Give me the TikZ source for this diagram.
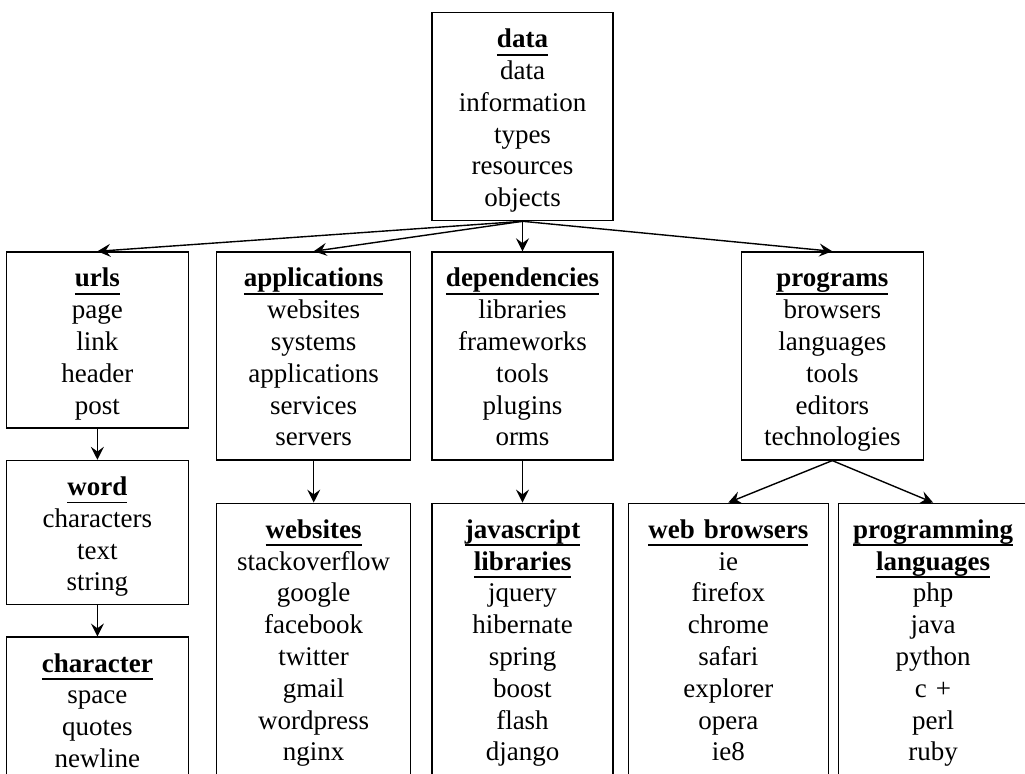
\documentclass[tikz,border=0pt]{standalone}
\usepackage{fontspec}
\setmainfont{Liberation Serif}
\usetikzlibrary{arrows.meta, positioning}

% bold underlined title line of a box
\newcommand{\boxhead}[1]{\leavevmode{\bfseries\setbox0=\hbox{#1}\rlap{\rule[-4pt]{\wd0}{0.9pt}}\box0}}

\begin{document}
\begin{tikzpicture} [
    x=0.5pt, y=-0.5pt,
    every node/.style={font=\fontsize{13.5}{15.9}\selectfont},
    termbox/.style={draw, line width=0.65pt,
        inner xsep=0pt, inner ysep=2pt, align=center,
        execute at begin node={\rule{0pt}{15.5pt}},
        execute at end node={\rule[-5pt]{0pt}{5pt}}},
    cut off/.style={execute at end node={\rule[-30pt]{0pt}{30pt}}}]

\clip (0,0) rectangle (1025,774);

% Root
\node (data) [termbox, anchor=north, text width=90.5pt] at (522.5,12)
    {\boxhead{data}\\data\\information\\types\\resources\\objects};

% Second row
\node (deps) [termbox,
    below = 15pt of data,
    text width=90.5pt]
    {\boxhead{dependencies}\\libraries\\frameworks\\tools\\plugins\\orms};

\node (apps) [termbox,
    left = 10pt of deps.north west, anchor=north east,
    text width=97pt]
    {\boxhead{applications}\\websites\\systems\\applications\\services\\servers};

\node (urls) [termbox,
    left = 13.5pt of apps.north west, anchor=north east,
    text width=91pt]
    {\boxhead{urls}\\page\\link\\header\\post};

\node (progs) [termbox,
    right = 63.5pt of deps.north east, anchor=north west,
    text width=91pt]
    {\boxhead{programs}\\browsers\\languages\\tools\\editors\\technologies};

% Left column
\node (word) [termbox,
    below = 15.5pt of urls,
    text width=91pt]
    {\boxhead{word}\\characters\\text\\string};

\node (char) [termbox, cut off,
    below = 15.5pt of word,
    text width=91pt]
    {\boxhead{character}\\space\\quotes\\newline};

% Third row
\node (sites) [termbox, cut off,
    below = 21pt of apps,
    text width=97pt]
    {\boxhead{websites}\\stackoverflow\\google\\facebook\\twitter\\gmail\\wordpress\\nginx};

\node (jslibs) [termbox, cut off,
    below = 21pt of deps,
    text width=90.5pt]
    {\boxhead{javascript}\\\boxhead{libraries}\\jquery\\hibernate\\spring\\boost\\flash\\django};

\node (browsers) [termbox, cut off,
    right = 7pt of jslibs.north east, anchor=north west,
    text width=100pt]
    {\boxhead{web browsers}\\ie\\firefox\\chrome\\safari\\explorer\\opera\\ie8};

\node (langs) [termbox, cut off,
    right = 4.5pt of browsers.north east, anchor=north west,
    text width=94.5pt]
    {\boxhead{programming}\\\boxhead{languages}\\php\\java\\python\\c +\\perl\\ruby};

% Arrows
\path [-{Stealth[length=6.5pt, width=6.5pt, inset=2.4pt]}, line width=0.7pt]
    (data.south) edge (urls.north)
    (data.south) edge (apps.north)
    (data.south) edge (deps.north)
    (data.south) edge (progs.north)
    (urls.south) edge (word.north)
    (word.south) edge (char.north)
    (apps.south) edge (sites.north)
    (deps.south) edge (jslibs.north)
    (progs.south) edge (browsers.north)
    (progs.south) edge (langs.north);
\end{tikzpicture}
\end{document}
